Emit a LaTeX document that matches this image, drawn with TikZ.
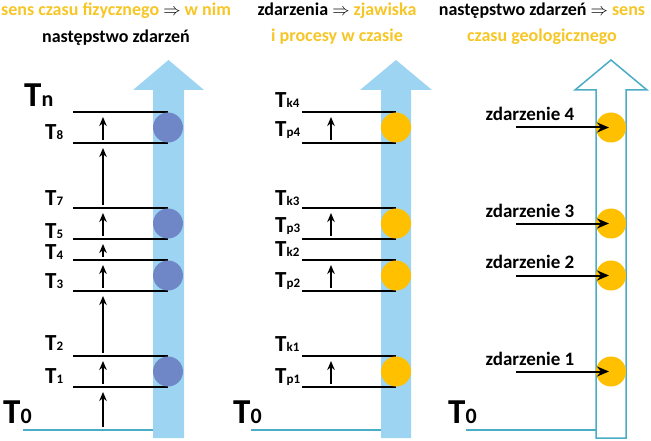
\documentclass[tikz,border=0pt]{standalone}
\usepackage{fontspec}
\setmainfont{Carlito}
\usepackage{tikz}
\usetikzlibrary{positioning, arrows.meta}
\definecolor{skyarrow}{RGB}{157,212,242}
\definecolor{dotblue}{RGB}{111,135,199}
\definecolor{dotyellow}{RGB}{255,192,0}
\definecolor{headyellow}{RGB}{246,198,38}
\definecolor{baseteal}{RGB}{75,172,198}
\newcommand{\smallsub}[1]{{\fontsize{13}{14}\selectfont #1}}
\newcommand{\bigsub}[1]{{\fontsize{22}{24}\selectfont #1}}
\tikzset{
	heading/.style={
		anchor=base,
		inner sep=0pt,
		font={\fontsize{18}{20}\selectfont\bfseries}
	},
	tlabel/.style={
		anchor=base west,
		inner sep=0pt,
		font={\fontsize{23}{24}\selectfont\bfseries}
	},
	bigT/.style={
		tlabel,
		font={\fontsize{35}{36}\selectfont\bfseries}
	},
	evlabel/.style={
		anchor=base,
		inner sep=0pt,
		font={\fontsize{19}{20}\selectfont\bfseries}
	},
	tick/.style={line width=1.1pt},
	stepar/.style={-{Stealth[length=9pt, width=7.5pt]}, line width=1.4pt, shorten <=3pt, shorten >=5pt},
	eventar/.style={-{Stealth[length=12pt, width=10pt]}, line width=2pt, shorten >=2pt},
	zero/.style={baseteal, line width=2.8pt},
	dot/.style={circle, draw=none, minimum size=30pt, inner sep=0pt},
}

\begin{document}
\begin{tikzpicture}[x=1pt, y=-1pt]
	\useasboundingbox (0,0) rectangle (651,441);
	
	% headings
	\node (head1a)[heading] at (116,16) {\textcolor{headyellow}{sens czasu fizycznego} $\Rightarrow$ \textcolor{headyellow}{w nim}};
	\node (head1b)[heading] at (116,43) {następstwo zdarzeń};
	\node (head2a)[heading] at (337,16) {zdarzenia $\Rightarrow$ \textcolor{headyellow}{zjawiska}};
	\node (head2b)[heading] at (337,42) {\color{headyellow}i procesy w czasie};
	\node (head3a)[heading] at (542,16) {następstwo zdarzeń $\Rightarrow$ \textcolor{headyellow}{sens}};
	\node (head3b)[heading] at (542,42) {\color{headyellow}czasu geologicznego};
	
	% big time arrows
	\fill[skyarrow] (153,438) -- (153,90) -- (133,90) -- (168.5,60) -- (204,90) -- (184,90) -- (184,438) -- cycle;
	\fill[skyarrow] (381,438) -- (381,90) -- (360,90) -- (396,60) -- (432,90) -- (411,90) -- (411,438) -- cycle;
	\draw[baseteal, line width=1.5pt, fill=white] (596,438) -- (596,90) -- (575,90) -- (611,60) -- (647,90) -- (626,90) -- (626,438) -- cycle;
	
	% panel 1: physical time
	\coordinate (f0) at (103,430);
	\coordinate (f1) at (103,387);
	\coordinate (f2) at (103,356);
	\coordinate (f3) at (103,291);
	\coordinate (f4) at (103,260);
	\coordinate (f5) at (103,239);
	\coordinate (f7) at (103,208);
	\coordinate (f8) at (103,143);
	\coordinate (fn) at (103,112);
	\draw[zero] (23,430) -- (153,430);
	\draw[tick] (73,387) -- ++(95,0) (73,356) -- ++(95,0) (73,291) -- ++(95,0) (73,260) -- ++(95,0);
	\draw[tick] (73,239) -- ++(95,0) (73,208) -- ++(95,0) (73,143) -- ++(95,0) (73,112) -- ++(95,0);
	\draw[stepar] (f0) -- (f1);
	\draw[stepar] (f1) -- (f2);
	\draw[stepar] (f2) -- (f3);
	\draw[stepar] (f3) -- (f4);
	\draw[stepar] (f4) -- (f5);
	\draw[stepar] (f5) -- (f7);
	\draw[stepar] (f7) -- (f8);
	\draw[stepar] (f8) -- (fn);
	\node (b1)[dot, fill=dotblue] at (168,371.5) {};
	\node (b2)[dot, fill=dotblue] at (168,275.5) {};
	\node (b3)[dot, fill=dotblue] at (168,223.5) {};
	\node (b4)[dot, fill=dotblue] at (168,127.5) {};
	\node (T0a)[bigT] at (3,423) {T\bigsub{0}};
	\node (T1)[tlabel] at (45,383) {T\smallsub{1}};
	\node (T2)[tlabel] at (45,350) {T\smallsub{2}};
	\node (T3)[tlabel] at (45,288) {T\smallsub{3}};
	\node (T4)[tlabel] at (45,259) {T\smallsub{4}};
	\node (T5)[tlabel] at (45,238) {T\smallsub{5}};
	\node (T7)[tlabel] at (45,206) {T\smallsub{7}};
	\node (T8)[tlabel] at (45,140) {T\smallsub{8}};
	\node (Tn)[bigT] at (24,107) {T\bigsub{n}};
	
	% panel 2: events with start and end
	\coordinate (p1) at (331,387);
	\coordinate (k1) at (331,356);
	\coordinate (p2) at (331,291);
	\coordinate (k2) at (331,260);
	\coordinate (p3) at (331,239);
	\coordinate (k3) at (331,208);
	\coordinate (p4) at (331,143);
	\coordinate (k4) at (331,112);
	\draw[zero] (251,430) -- (381,430);
	\draw[tick] (302,387) -- ++(94,0) (302,356) -- ++(94,0) (302,291) -- ++(94,0) (302,260) -- ++(94,0);
	\draw[tick] (302,239) -- ++(94,0) (302,208) -- ++(94,0) (302,143) -- ++(94,0) (302,112) -- ++(94,0);
	\draw[stepar] (p1) -- (k1);
	\draw[stepar] (p2) -- (k2);
	\draw[stepar] (p3) -- (k3);
	\draw[stepar] (p4) -- (k4);
	\node (y1)[dot, fill=dotyellow] at (396,371.5) {};
	\node (y2)[dot, fill=dotyellow] at (396,275.5) {};
	\node (y3)[dot, fill=dotyellow] at (396,223.5) {};
	\node (y4)[dot, fill=dotyellow] at (396,127.5) {};
	\node (T0b)[bigT] at (233,423) {T\bigsub{0}};
	\node (Tp1)[tlabel] at (275,383) {T\smallsub{p1}};
	\node (Tk1)[tlabel] at (275,351) {T\smallsub{k1}};
	\node (Tp2)[tlabel] at (275,287) {T\smallsub{p2}};
	\node (Tk2)[tlabel] at (275,256) {T\smallsub{k2}};
	\node (Tp3)[tlabel] at (275,233) {T\smallsub{p3}};
	\node (Tk3)[tlabel] at (275,205) {T\smallsub{k3}};
	\node (Tp4)[tlabel] at (275,137) {T\smallsub{p4}};
	\node (Tk4)[tlabel] at (275,108) {T\smallsub{k4}};
	
	% panel 3: geological time
	\draw[zero] (466,430) -- (596,430);
	\node (g1)[dot, fill=dotyellow] at (611,371.5) {};
	\node (g2)[dot, fill=dotyellow] at (611,275.5) {};
	\node (g3)[dot, fill=dotyellow] at (611,223.5) {};
	\node (g4)[dot, fill=dotyellow] at (611,127.5) {};
	\coordinate (s1) at (516,371.5);
	\coordinate (s2) at (516,275.5);
	\coordinate (s3) at (516,223.5);
	\coordinate (s4) at (516,127.5);
	\draw[eventar] (s1) -- (g1.center);
	\draw[eventar] (s2) -- (g2.center);
	\draw[eventar] (s3) -- (g3.center);
	\draw[eventar] (s4) -- (g4.center);
	\node (ev1)[evlabel] at (530,365) {zdarzenie 1};
	\node (ev2)[evlabel] at (530,268) {zdarzenie 2};
	\node (ev3)[evlabel] at (530,218) {zdarzenie 3};
	\node (ev4)[evlabel] at (530,121) {zdarzenie 4};
	\node (T0c)[bigT] at (448,423) {T\bigsub{0}};
	
\end{tikzpicture}
\end{document}
